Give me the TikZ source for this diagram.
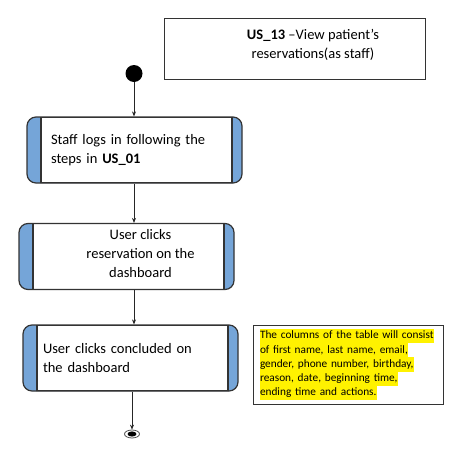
\documentclass[tikz,border=0pt]{standalone}
\usepackage{fontspec}
\setmainfont{Carlito}
\usetikzlibrary{arrows.meta,shapes.geometric}
\definecolor{barblue}{RGB}{117,165,216}
\newcommand\hlline[1]{{\setlength{\fboxsep}{0pt}\colorbox{yellow}{\strut #1}}}

\begin{document}
\begin{tikzpicture}[x=1pt,y=-1pt]
        \tikzstyle{every node}=[font=\fontsize{14.5}{19}\selectfont, inner sep=0pt]
        \tikzstyle{action}=[rectangle, rounded corners=9pt, draw=black!80, line width=1.2pt, fill=barblue, minimum width=215pt, minimum height=66pt,
            path picture={\fill[white, draw=black!80, line width=1.4pt, sharp corners] ([xshift=14pt]path picture bounding box.north west) rectangle ([xshift=-10pt]path picture bounding box.south east);}]
        \tikzstyle{flow}=[-{Stealth[length=5pt,width=4pt]}, line width=0.7pt, black!85]
        \useasboundingbox (0,0) rectangle (455,464);
        \node[draw=black!80, line width=1pt, minimum width=261pt, minimum height=61pt] (title) at (294.5,48.5) {};
        \node[align=center] (titletext) at (313,45) {\textbf{US\_13} –View patient’s\\reservations(as staff)};
        \node[circle, fill=black, minimum size=17pt] (start) at (134,73.5) {};
        \node[action, text width=167pt, align=left] (act1) at (134.5,150) {Staff logs in following the\\steps in \textbf{US\_01}};
        \node[action, label={[align=center, xshift=14pt, yshift=3pt]center:User clicks\\reservation on the\\dashboard}] (act2) at (126.5,256.5) {};
        \node[action, text width=175pt, align=left] (act3) at (130.5,358) {User clicks concluded on\\the dashboard};
        \node[draw=black!80, line width=1pt, minimum width=190pt, minimum height=79pt, text width=176pt, align=left, font=\fontsize{11.3}{14.2}\selectfont] (note) at (348,364.5)
            {\hlline{The columns of the table will consist}\\\hlline{of first name, last name, email,}\\\hlline{gender, phone number, birthday,}\\\hlline{reason, date, beginning time,}\\\hlline{ending time and actions.}};
        \node[ellipse, draw=black!70, line width=0.8pt, fill=white, minimum width=15pt, minimum height=8pt,
            path picture={\fill[black, rotate around={20:(path picture bounding box.center)}] (path picture bounding box.center) ellipse (4.5pt and 2.6pt);}] (end) at (132,434) {};
        \draw[flow] (start) -- (act1.north -| start);
        \draw[flow] (act1.south -| start) -- (act2.north -| start);
        \draw[flow] (act2.south -| start) -- (act3.north -| start);
        \draw[flow] (act3.south -| end) -- (end);
    \end{tikzpicture}
\end{document}
